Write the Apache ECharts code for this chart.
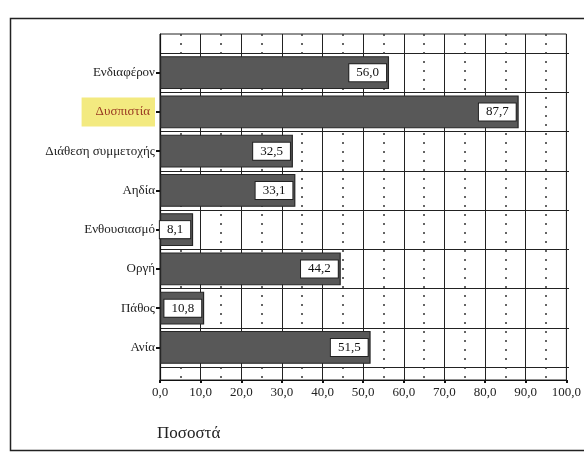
<!DOCTYPE html>
<html>
<head>
<meta charset="utf-8">
<script src="https://cdn.jsdelivr.net/npm/echarts@6/dist/echarts.min.js"></script>
<style>
html,body{margin:0;padding:0;background:#fff;}
#c{width:584px;height:452px;}
</style>
</head>
<body>
<div id="c"></div>
<script>
var categories = ['Ενδιαφέρον', 'Δυσπιστία', 'Διάθεση συμμετοχής', 'Αηδία', 'Ενθουσιασμό', 'Οργή', 'Πάθος', 'Ανία'];
var values = [56.0, 87.7, 32.5, 33.1, 8.1, 44.2, 10.8, 51.5];
var tickLabels = ['0,0', '10,0', '20,0', '30,0', '40,0', '50,0', '60,0', '70,0', '80,0', '90,0', '100,0'];
var highlighted = 'Δυσπιστία';
var axisTitle = 'Ποσοστά';

var serif = '"Liberation Serif", "DejaVu Serif", serif';
var chart = echarts.init(document.getElementById('c'));

function fmt(v) { return v.toFixed(1).replace('.', ','); }

chart.setOption({
  animation: false,
  backgroundColor: '#fff',
  title: {
    text: axisTitle, left: 152, top: 420,
    textStyle: { fontFamily: serif, fontSize: 17, fontWeight: 'normal', color: '#222' }
  },
  graphic: [{
    type: 'rect', left: 8, top: 16, silent: true,
    shape: { width: 620, height: 432 },
    style: { fill: 'none', stroke: '#222', lineWidth: 1.5 }
  }],
  grid: [
    { left: 160, right: 15, top: 34, bottom: 72, show: true, borderColor: '#222', borderWidth: 1, backgroundColor: 'transparent' },
    { left: 160, right: 15, top: 53, bottom: 85 }
  ],
  xAxis: [
    {
      gridIndex: 0, type: 'value', min: 0, max: 100, interval: 10,
      axisLine: { show: true, lineStyle: { color: '#111', width: 1.2 } },
      axisTick: { show: true, length: 3, inside: false, lineStyle: { color: '#111', width: 2 } },
      axisLabel: {
        fontFamily: serif, fontSize: 13, color: '#222', margin: 6,
        formatter: function (v) { return tickLabels[Math.round(v / 10)]; }
      },
      splitLine: { show: true, lineStyle: { color: '#222', width: 1 } },
      minorTick: { show: false, splitNumber: 2 },
      minorSplitLine: { show: true, lineStyle: { color: '#333', width: 1.5, type: [2, 7] } }
    },
    { gridIndex: 1, type: 'value', min: 0, max: 100, show: false }
  ],
  yAxis: [
    {
      gridIndex: 0, type: 'value', min: 0, max: 1,
      axisLine: { show: true, lineStyle: { color: '#111', width: 1.2 } },
      axisTick: { show: false }, axisLabel: { show: false }, splitLine: { show: false }
    },
    {
      gridIndex: 1, type: 'category', inverse: true, data: categories,
      axisLine: { show: false },
      axisTick: { show: true, alignWithLabel: true, length: 4, lineStyle: { color: '#111', width: 2 } },
      axisLabel: {
        fontFamily: serif, fontSize: 13, color: '#222', margin: 5,
        formatter: function (v) { return v === highlighted ? '{hl|' + v + '}' : v; },
        rich: {
          hl: {
            fontFamily: serif, fontSize: 13, color: '#9a3a22',
            backgroundColor: '#f3ea80', padding: [8, 5, 8, 14]
          }
        }
      },
      splitLine: { show: true, lineStyle: { color: '#222', width: 1.2 } }
    }
  ],
  series: [{
    type: 'bar', xAxisIndex: 1, yAxisIndex: 1,
    data: values, barCategoryGap: '16%',
    itemStyle: { color: '#585858', borderColor: '#262626', borderWidth: 1.2 },
    label: {
      show: true, position: 'insideRight', distance: 3,
      formatter: function (p) { return fmt(p.value); },
      fontFamily: serif, fontSize: 13, color: '#111',
      backgroundColor: '#fff', borderColor: '#222', borderWidth: 1,
      padding: [2, 7, 2, 7]
    }
  }]
});
</script>
</body>
</html>
